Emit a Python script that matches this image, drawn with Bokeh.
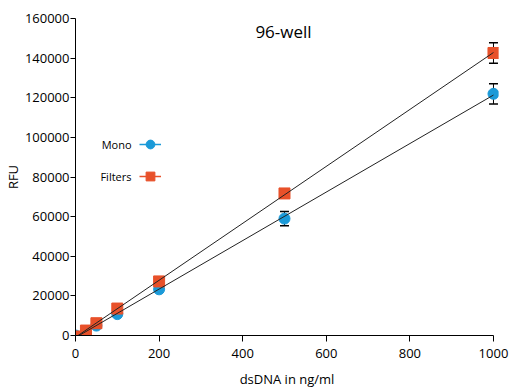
import numpy as np
from bokeh.plotting import figure
from bokeh.models import (ColumnDataSource, Whisker, TeeHead, Label, Legend, LegendItem,
                          Range1d, FixedTicker, BasicTickFormatter)
from bokeh.embed import file_html
from bokeh.resources import INLINE

# ---- data ----
conc = [0, 25, 50, 100, 200, 500, 1000]
mono = [0, 2000, 5000, 10800, 23300, 59000, 122000]
mono_err = [0, 0, 0, 0, 0, 3600, 5100]
filters = [-500, 2500, 6200, 13600, 27300, 71700, 142600]
filters_err = [0, 0, 0, 0, 0, 1500, 5200]
series_names = ["Mono", "Filters"]
title_text = "96-well"
x_label = "dsDNA in ng/ml"
y_label = "RFU"
x_ticks = [0, 200, 400, 600, 800, 1000]
y_ticks = [0, 20000, 40000, 60000, 80000, 100000, 120000, 140000, 160000]

BLUE = "#1b9ad8"
ORANGE = "#e8512a"
FONT = "Open Sans"

p = figure(width=512, height=390, output_backend="svg", toolbar_location=None,
           x_range=Range1d(0, 1012), y_range=Range1d(0, 160000),
           min_border_left=72, min_border_right=14, min_border_top=18, min_border_bottom=55)
p.outline_line_color = None
p.xgrid.visible = False
p.ygrid.visible = False
p.background_fill_color = "white"

for ax in (p.xaxis[0], p.yaxis[0]):
    ax.axis_line_color = "black"
    ax.major_tick_line_color = "black"
    ax.minor_tick_line_color = None
    ax.major_tick_out = 6
    ax.major_tick_in = 0
    ax.major_label_text_font = FONT
    ax.major_label_text_font_size = "13px"
    ax.major_label_text_color = "black"
    ax.axis_label_text_font = FONT
    ax.axis_label_text_font_size = "13px"
    ax.axis_label_text_font_style = "normal"
    ax.axis_label_text_color = "black"

p.xaxis.ticker = FixedTicker(ticks=x_ticks)
p.yaxis.ticker = FixedTicker(ticks=y_ticks)
p.yaxis.formatter = BasicTickFormatter(use_scientific=False)
p.xaxis.bounds = (x_ticks[0], x_ticks[-1])
p.xaxis.axis_label = x_label
p.yaxis.axis_label = y_label
p.xaxis.major_label_standoff = 7
p.xaxis.axis_label_standoff = 9
p.yaxis.major_label_standoff = 1
p.yaxis.major_tick_out = 5
p.yaxis.axis_label_standoff = 0

x = np.array(conc, dtype=float)
sets = [(np.array(mono, float), np.array(mono_err, float), BLUE, "circle"),
        (np.array(filters, float), np.array(filters_err, float), ORANGE, "square")]

marker_renderers = []
legend_lines = []
for yv, ev, col, mk in sets:
    r = p.scatter(x, yv, marker=mk, size=11, fill_color=col, line_color=col)
    marker_renderers.append(r)
    m = ev > 0
    src = ColumnDataSource(dict(x=x[m], up=(yv + ev)[m], lo=(yv - ev)[m]))
    w = Whisker(base="x", upper="up", lower="lo", source=src, dimension="height",
                line_color="black", line_width=1,
                upper_head=TeeHead(size=9, line_color="black", line_width=1.5),
                lower_head=TeeHead(size=9, line_color="black", line_width=1.5))
    p.add_layout(w)
    # invisible (NaN) line, used only to draw the coloured stroke in the legend
    legend_lines.append(p.line(x, np.full_like(x, np.nan), line_color=col, line_width=1.5))

# fitted lines
for yv, ev, col, mk in sets:
    k, b = np.polyfit(x, yv, 1)
    xs = np.array([x.min(), x.max()])
    p.line(xs, k * xs + b, line_color="#222222", line_width=1)

# legend (glyph only) + labels on the left
items = [LegendItem(label=" ", renderers=[legend_lines[i], marker_renderers[i]])
         for i in range(2)]
leg = Legend(items=items, location=(64, 147), glyph_width=22, glyph_height=24,
             spacing=8, padding=0, margin=0, label_standoff=0, label_width=0,
             label_text_font_size="1px", background_fill_alpha=0, border_line_alpha=0)
p.add_layout(leg)

for name, yy in zip(series_names, [191, 159]):
    p.add_layout(Label(x=56, y=yy, x_units="screen", y_units="screen", text=name,
                       text_align="right", text_baseline="middle", text_font=FONT,
                       text_font_size="11px", text_color="black"))

p.add_layout(Label(x=208, y=304, x_units="screen", y_units="screen", text=title_text,
                   text_align="center", text_baseline="middle", text_font=FONT,
                   text_font_size="17px", text_color="black"))

open("out.html", "w").write(file_html(p, INLINE))
